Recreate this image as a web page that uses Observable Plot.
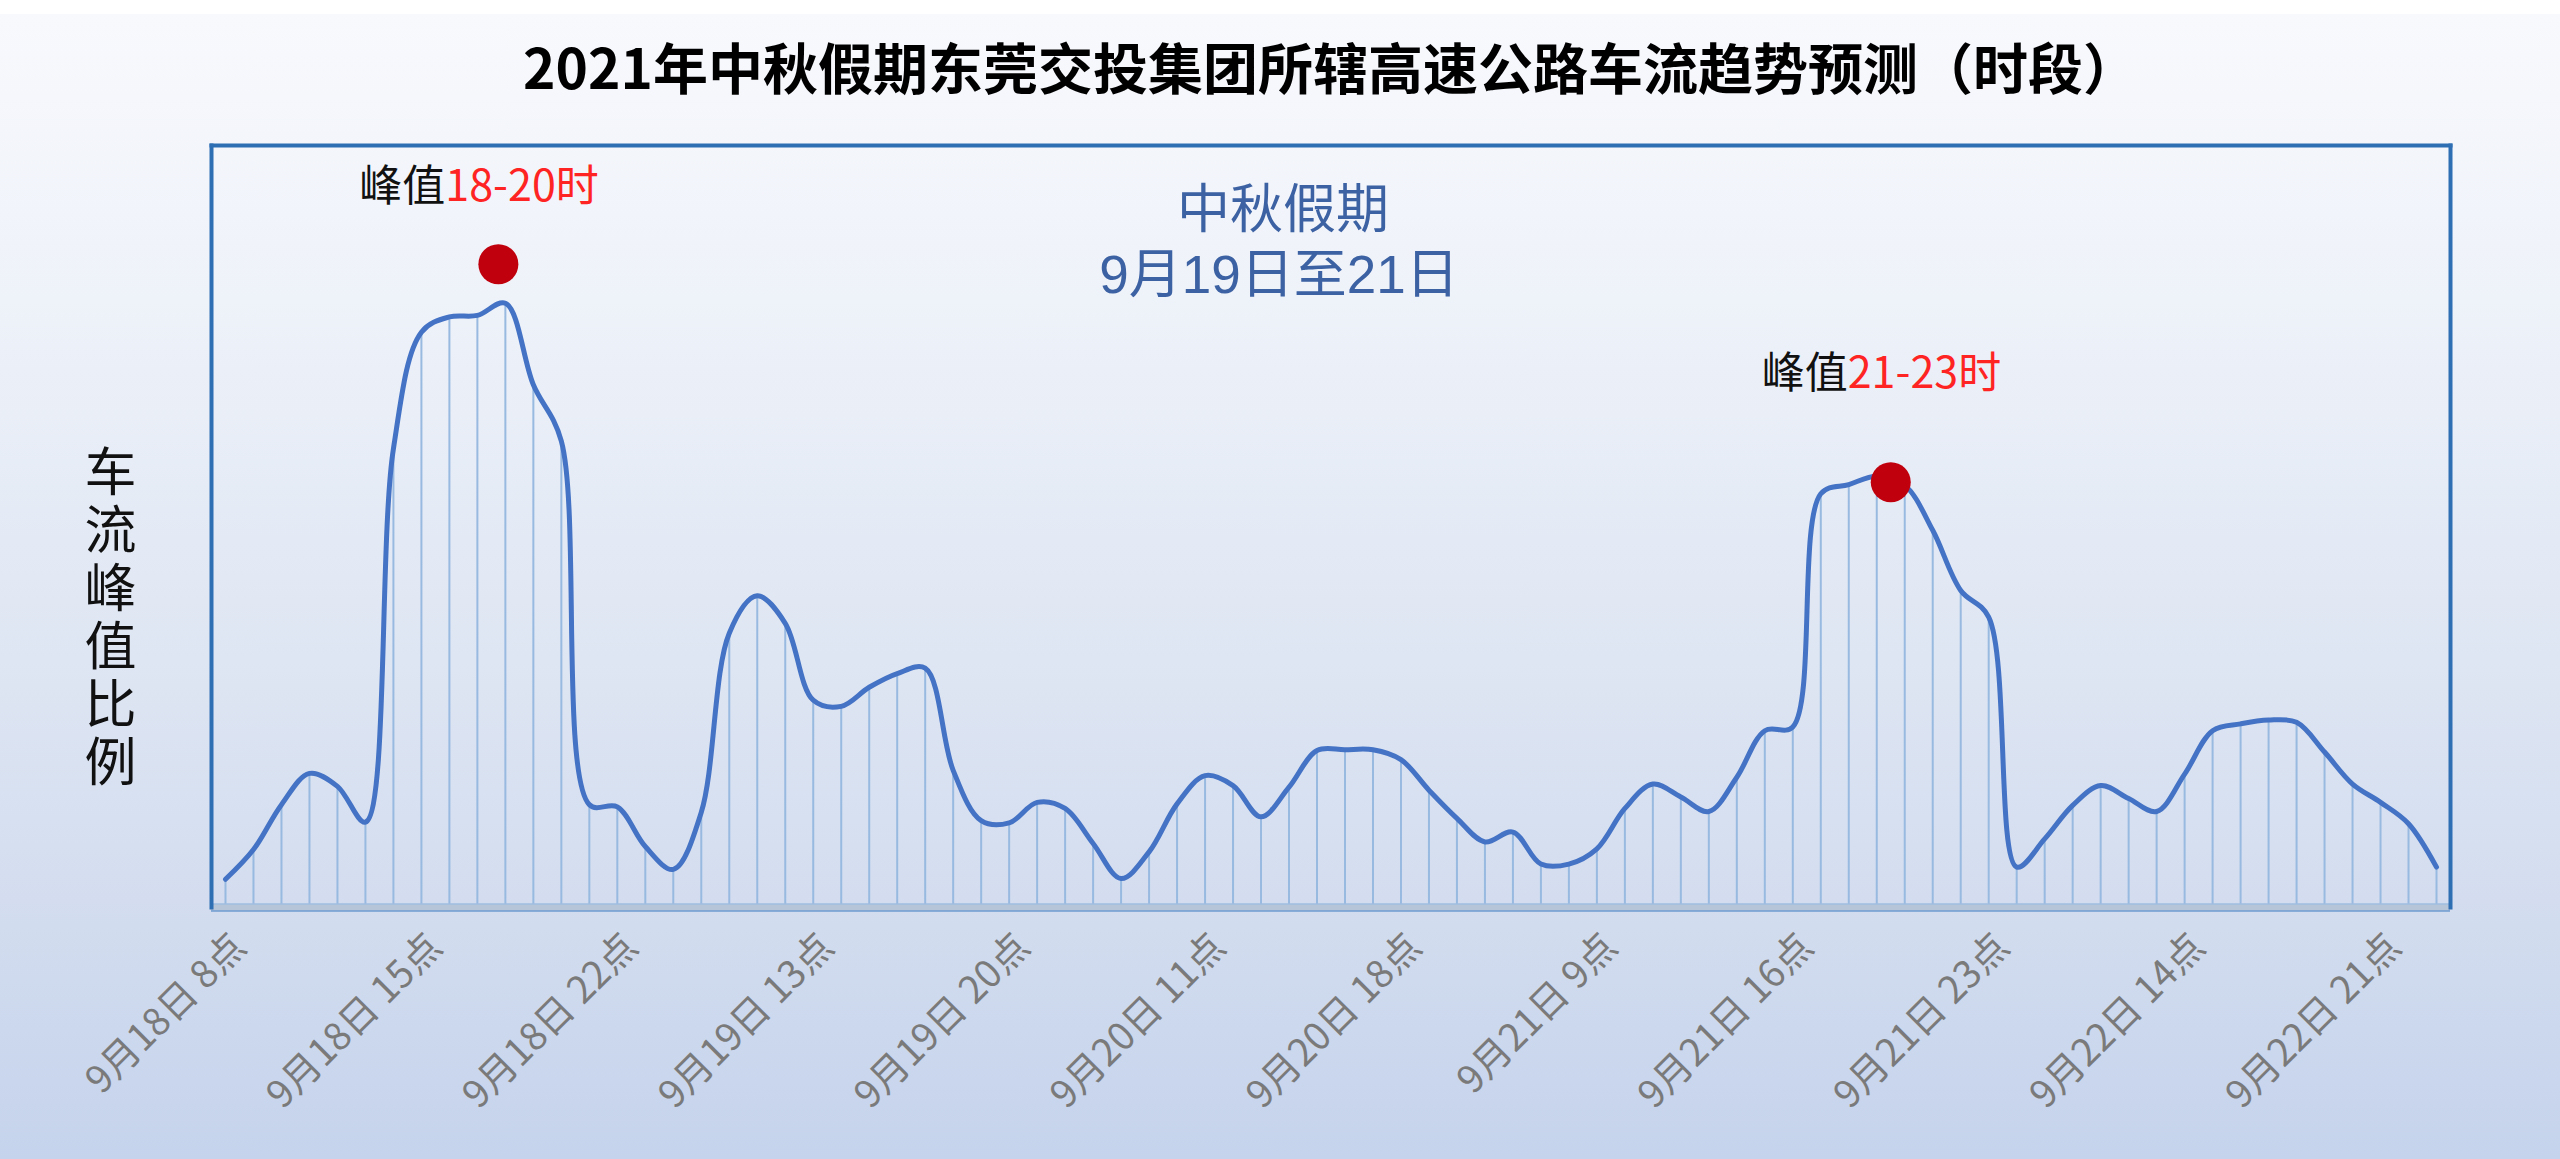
<!DOCTYPE html>
<html>
<head>
<meta charset="utf-8">
<script src="https://cdn.jsdelivr.net/npm/d3@7"></script>
<script src="https://cdn.jsdelivr.net/npm/@observablehq/plot@0.6"></script>
<style>
  html, body { margin: 0; padding: 0; }
  body {
    width: 2560px; height: 1159px; overflow: hidden;
    font-family: "Noto Sans CJK SC", "Noto Sans", sans-serif;
    background: linear-gradient(to bottom, #ffffff 0px, #ffffff 14px, #f8f9fd 14px, #eef2f9 300px, #e1e8f4 600px, #d3ddef 900px, #c5d3ec 1159px);
  }
  #title {
    height: 130px; box-sizing: border-box;
    padding-left: 211px; padding-right: 110px;
    text-align: center; line-height: 130px;
    font-size: 55px; font-weight: bold; color: #000;
    white-space: nowrap;
  }
  #chart svg { display: block; }
</style>
</head>
<body>
<div id="title"></div>
<div id="chart"></div>
<script>
// ---- data ----
const titleText = "2021年中秋假期东莞交投集团所辖高速公路车流趋势预测（时段）";
const yLabel = "车流峰值比例";
const days = ["9月18日", "9月19日", "9月20日", "9月21日", "9月22日"];
const hours = [8, 9, 10, 11, 12, 13, 14, 15, 16, 17, 18, 19, 20, 21, 22, 23];
// relative traffic peak share per hour slot
const values = [
  // 9月18日 8-23点
  3.7, 7.6, 13.5, 17.6, 15.9, 11.2, 60.2, 75.5, 77.5, 77.7, 79.3, 68.6, 61.2, 13.5, 13.2, 8.0,
  // 9月19日 8-23点
  5.0, 12.5, 36.0, 40.9, 37.3, 27.2, 26.4, 28.9, 30.7, 31.4, 18.0, 11.4, 11.1, 13.8, 13.0, 8.4,
  // 9月20日 8-23点
  3.8, 7.3, 13.6, 17.3, 16.0, 11.9, 15.8, 20.6, 20.7, 20.7, 19.4, 15.4, 11.7, 8.6, 9.9, 5.7,
  // 9月21日 8-23点
  5.7, 7.7, 13.0, 16.2, 14.5, 12.6, 17.1, 23.2, 23.7, 54.3, 55.5, 56.6, 55.4, 49.5, 41.6, 38.1,
  // 9月22日 8-23点
  5.3, 9.0, 13.4, 16.0, 14.3, 12.6, 17.5, 23.2, 24.1, 24.6, 24.3, 20.4, 16.2, 13.8, 11.0, 5.3
];
const tickLabels = [
  "9月18日 8点", "9月18日 15点", "9月18日 22点", "9月19日 13点",
  "9月19日 20点", "9月20日 11点", "9月20日 18点", "9月21日 9点",
  "9月21日 16点", "9月21日 23点", "9月22日 14点", "9月22日 21点"
];
const peakCats = ["9月18日 18点", "9月21日 19点"];
const peakPrefix = ["峰值", "峰值"];
const peakHours = ["18-20时", "21-23时"];
const holidayNote = ["中秋假期", "9月19日至21日"];

// ---- build table ----
const cats = days.flatMap(d => hours.map(h => `${d} ${h}点`));
const data = cats.map((c, i) => ({cat: c, v: values[i]}));
const peaks = peakCats.map((c, i) => ({cat: c, v: values[cats.indexOf(c)], prefix: peakPrefix[i], hours: peakHours[i]}));

document.getElementById("title").textContent = titleText;

const font = "'Noto Sans CJK SC', 'Noto Sans', sans-serif";
const latinFirst = "'Liberation Sans', 'Noto Sans CJK SC', sans-serif";
const lineBlue = "#4472c4";
const boxBlue = "#2e6fb3";
const dotRed = "#c0000d";
const textRed = "#ff2424";

function peakMarks(p, o) {
  return [
    Plot.dot([p], {x: "cat", y: "v", r: 20, fill: dotRed, dx: o.dotDx, dy: o.dotDy}),
    Plot.text([p], {x: "cat", y: "v", text: "prefix", textAnchor: "end", fill: "#111", fontSize: 43, dx: o.labDx, dy: o.labDy}),
    Plot.text([p], {x: "cat", y: "v", text: "hours", textAnchor: "start", fill: textRed, fontSize: 43, dx: o.labDx, dy: o.labDy})
  ];
}

const chart = Plot.plot({
  width: 2560,
  height: 1029,
  marginTop: 15,
  marginBottom: 252,
  marginLeft: 211,
  marginRight: 110,
  style: {background: "transparent", fontFamily: font, overflow: "visible"},
  x: {type: "point", domain: cats, padding: 0.5, axis: null},
  y: {domain: [0, 100], axis: null},
  marks: [
    Plot.ruleX(data, {x: "cat", y1: 0, y2: "v", stroke: "#98b9e0", strokeWidth: 2}),
    Plot.ruleY([0], {stroke: "#b7c5d9", strokeWidth: 7}),
    Plot.ruleY([0], {stroke: "#9fbde0", strokeWidth: 1.5, dy: -3.5}),
    Plot.ruleY([0], {stroke: "#6f9bd0", strokeWidth: 1.5, dy: 3.5}),
    Plot.frame({anchor: "top", stroke: boxBlue, strokeWidth: 4}),
    Plot.frame({anchor: "left", stroke: boxBlue, strokeWidth: 4}),
    Plot.frame({anchor: "right", stroke: boxBlue, strokeWidth: 4}),
    Plot.line(data, {x: "cat", y: "v", curve: "catmull-rom", stroke: lineBlue, strokeWidth: 5, strokeLinejoin: "round", strokeLinecap: "round"}),
    ...peakMarks(peaks[0], {dotDx: -7, dotDy: -39, labDx: -60, labDy: -116}),
    ...peakMarks(peaks[1], {dotDx: 14, dotDy: 6, labDx: -29, labDy: -102}),
    Plot.text([holidayNote[0]], {frameAnchor: "top", lineAnchor: "middle", dx: -48, dy: 66, fontSize: 53, fill: "#3d62a3", fontFamily: latinFirst}),
    Plot.text([holidayNote[1]], {frameAnchor: "top", lineAnchor: "middle", dx: -52, dy: 131, fontSize: 53, fill: "#3d62a3", fontFamily: latinFirst}),
    Plot.text([yLabel], {frameAnchor: "left", lineAnchor: "middle", textAnchor: "middle", dx: -101, dy: 76, fontSize: 52, fill: "#111", className: "ylabel"}),
    Plot.axisX({ticks: tickLabels, tickRotate: -45, tickSize: 0, tickPadding: 33, fontSize: 38, color: "#7a7a7a", label: null, dx: 14})
  ]
});
// vertical (upright, stacked) writing for the y label
d3.select(chart).selectAll("g.ylabel text, .ylabel text")
  .attr("writing-mode", "vertical-rl")
  .style("writing-mode", "vertical-rl")
  .style("text-orientation", "upright")
  .style("letter-spacing", "6px")
  .attr("dy", null);
document.getElementById("chart").appendChild(chart);
</script>
</body>
</html>
